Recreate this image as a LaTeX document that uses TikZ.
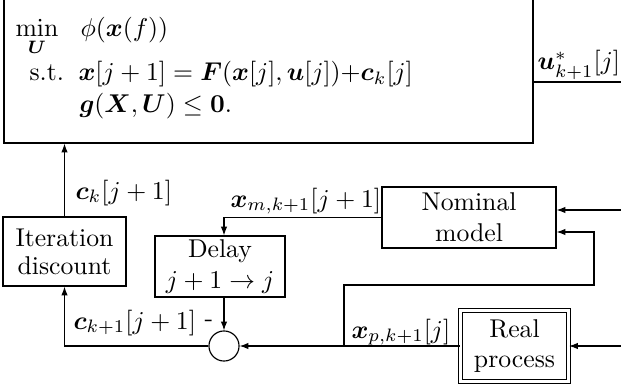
\documentclass[tikz,border=0pt]{standalone}
\usepackage{amsmath}
\usetikzlibrary{arrows.meta}
\begin{document}
\begin{tikzpicture}[x=0.389pt,y=-0.389pt,
  blk/.style={draw,line width=0.45pt,inner sep=0pt,align=center},
  sig/.style={line width=0.45pt},
  arr/.style={sig,-{Latex[length=3.4pt,width=2.5pt]}},
  lbl/.style={inner sep=0pt,anchor=base west}]
\clip (0,0) rectangle (621,392);

% optimisation block (its upper edge lies above the page)
\node[blk,minimum width=205.8pt,minimum height=63.4pt] (opt) at (268.5,61.5) {};
\node[lbl] (minU) at (15,37) {$\displaystyle\min_{\boldsymbol{U}}$};
\node[lbl] (cost) at (80,37) {$\phi(\boldsymbol{x}(f))$};
\node[lbl] (st) at (29,81) {s.t.};
\node[lbl] (dyn) at (78,81) {$\boldsymbol{x}[j+1] = \boldsymbol{F}(\boldsymbol{x}[j],\boldsymbol{u}[j]){+}\boldsymbol{c}_k[j]$};
\node[lbl] (con) at (79,113) {$\boldsymbol{g}(\boldsymbol{X},\boldsymbol{U}) \le \boldsymbol{0}.$};

% blocks
\node[blk,minimum width=47.85pt,minimum height=26.84pt] (iter) at (64.5,251.5) {Iteration\\[-1pt]discount};
\node[blk,minimum width=50.57pt,minimum height=23.73pt] (delay) at (220,266.5) {Delay\\$j+1\rightarrow j$};
\node[blk,minimum width=67.69pt,minimum height=23.73pt] (nom) at (469,217.5) {Nominal\\model};
\node[blk,double,double distance=1pt,minimum width=42.01pt,minimum height=27.62pt] (real) at (514.5,346) {Real\\process};
\node[draw,line width=0.45pt,circle,inner sep=0pt,minimum size=11.7pt] (sum) at (224,346) {};

% free ends and corners
\coordinate (uout) at (621,82);
\coordinate (in1) at (621,210);
\coordinate (in2) at (594,232);
\coordinate (turn) at (594,285);
\coordinate (in3) at (621,346);
\coordinate (tap) at (344,346);

% connectors
\draw[sig] (opt.east |- uout) -- (uout);
\node[lbl] (ulbl) at (537,70) {$\boldsymbol{u}^*_{k+1}[j]$};

\draw[arr] (iter.north) -- (iter.north |- opt.south);
\node[lbl] (cklbl) at (75,199) {$\boldsymbol{c}_k[j+1]$};

\draw[arr] (nom.west) -| (sum |- delay.north);
\node[lbl] (xmlbl) at (230,207) {$\boldsymbol{x}_{m,k+1}[j+1]$};

\draw[arr] (in1) -- (nom.east |- in1);
\draw[arr] (tap) -- (tap |- turn) -- (turn) -- (in2) -- (nom.east |- in2);
\draw[arr] (in3) -- (real.east |- in3);

\draw[arr] (real.west) -- (sum.east);
\node[lbl] (xplbl) at (351,338) {$\boldsymbol{x}_{p,k+1}[j]$};

\draw[arr] (sum |- delay.south) -- (sum.north);
\node[inner sep=0pt] (minus) at (209,323) {-};

\draw[arr] (sum.west) -| (iter.south);
\node[lbl] (ck1lbl) at (73,329) {$\boldsymbol{c}_{k+1}[j+1]$};
\end{tikzpicture}
\end{document}
